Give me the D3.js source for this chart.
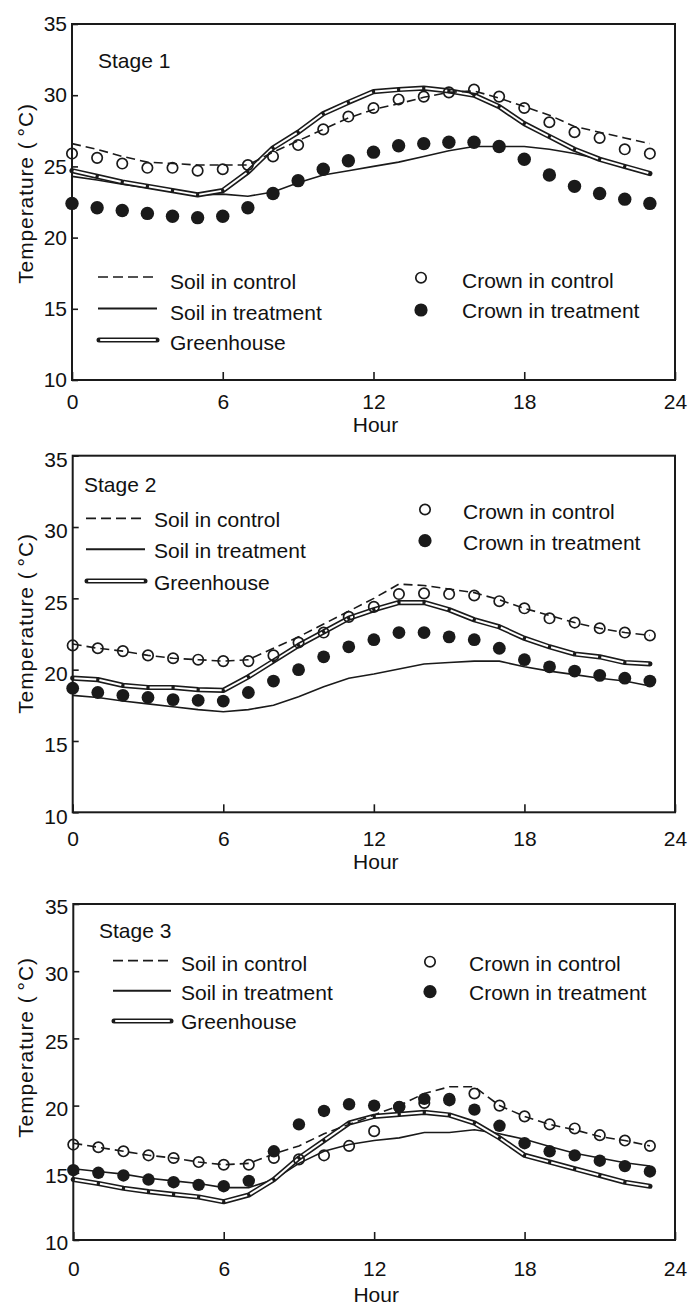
<!DOCTYPE html>
<html><head><meta charset="utf-8">
<script src="https://cdn.jsdelivr.net/npm/d3@7"></script>
<style>
body{margin:0;background:#fff}
text{font-family:"Liberation Sans",Arial,Helvetica,sans-serif;fill:#111}
</style>
</head><body><svg id="c" width="696" height="1307"></svg>
<script>
// ---------------- DATA ----------------
const hours = [0,1,2,3,4,5,6,7,8,9,10,11,12,13,14,15,16,17,18,19,20,21,22,23];
const xTickValues = [0,6,12,18,24];
const yTickValues = [10,15,20,25,30,35];
const stageLabels = ["Stage 1","Stage 2","Stage 3"];
const lineSeriesNames = ["Soil in control","Soil in treatment","Greenhouse"];
const pointSeriesNames = ["Crown in control","Crown in treatment"];
const xTitle = "Hour";
const yTitle = "Temperature (";
const yTitleUnit = "°C)";

// Stage 1
const soilControl1  = [26.6,26.2,25.7,25.3,25.2,25.1,25.1,25.1,26.0,26.8,27.6,28.4,29.0,29.4,29.85,30.2,30.3,29.8,29.2,28.6,27.8,27.4,27.0,26.6];
const soilTreat1    = [24.3,24.05,23.75,23.5,23.25,23.0,23.05,22.9,23.2,23.85,24.4,24.7,25.0,25.3,25.7,26.1,26.4,26.4,26.4,26.2,25.9,25.5,25.0,24.4];
const greenhouse1   = [24.7,24.3,23.9,23.6,23.3,23.0,23.3,24.6,26.3,27.4,28.7,29.5,30.25,30.4,30.5,30.3,30.0,29.2,28.0,27.1,26.2,25.5,25.0,24.5];
const crownControl1 = [25.9,25.6,25.2,24.9,24.9,24.7,24.8,25.1,25.7,26.5,27.6,28.5,29.1,29.7,29.9,30.2,30.4,29.9,29.1,28.1,27.4,27.0,26.2,25.9];
const crownTreat1   = [22.4,22.1,21.9,21.7,21.5,21.4,21.5,22.1,23.1,24.0,24.8,25.4,26.0,26.45,26.6,26.7,26.7,26.4,25.5,24.4,23.6,23.1,22.7,22.4];

// Stage 2
const soilControl2  = [21.8,21.5,21.3,21.0,20.8,20.7,20.6,20.7,21.5,22.3,23.2,24.1,25.0,26.0,25.9,25.65,25.4,24.9,24.3,23.8,23.3,22.9,22.6,22.4];
const soilTreat2    = [18.2,18.05,17.8,17.6,17.4,17.2,17.05,17.2,17.5,18.1,18.8,19.4,19.7,20.05,20.4,20.5,20.6,20.6,20.2,19.9,19.65,19.4,19.2,18.85];
const greenhouse2   = [19.4,19.3,18.9,18.75,18.75,18.6,18.55,19.5,20.6,21.7,22.65,23.6,24.2,24.7,24.7,24.2,23.5,23.0,22.2,21.6,21.1,20.9,20.5,20.4];
const crownControl2 = [21.7,21.5,21.3,21.0,20.8,20.7,20.6,20.6,21.0,21.9,22.6,23.7,24.4,25.3,25.35,25.3,25.2,24.8,24.3,23.6,23.3,22.9,22.6,22.4];
const crownTreat2   = [18.7,18.4,18.2,18.05,17.9,17.85,17.8,18.4,19.2,20.0,20.9,21.6,22.1,22.6,22.6,22.3,22.1,21.5,20.7,20.2,19.9,19.6,19.4,19.2];

// Stage 3
const soilControl3  = [17.2,16.9,16.6,16.3,16.1,15.8,15.6,15.7,16.4,17.0,17.9,18.6,19.3,20.0,20.9,21.4,21.4,20.0,19.2,18.6,18.2,17.7,17.4,17.0];
const soilTreat3    = [15.3,15.1,14.9,14.6,14.4,14.2,13.9,13.9,14.5,15.7,16.6,17.1,17.4,17.6,18.0,18.0,18.2,17.9,17.5,16.95,16.45,16.1,15.75,15.5];
const greenhouse3   = [14.5,14.2,13.85,13.6,13.4,13.2,12.85,13.35,14.5,16.1,17.4,18.7,19.2,19.35,19.5,19.3,18.7,17.6,16.3,15.8,15.3,14.8,14.3,14.0];
const crownControl3 = [17.1,16.9,16.6,16.3,16.1,15.8,15.6,15.6,16.1,16.0,16.3,17.0,18.1,19.9,20.2,20.5,20.9,20.0,19.2,18.6,18.3,17.8,17.4,17.0];
const crownTreat3   = [15.2,15.0,14.8,14.5,14.3,14.1,14.0,14.4,16.6,18.6,19.6,20.1,20.0,19.9,20.5,20.4,19.7,18.5,17.2,16.6,16.3,15.9,15.5,15.1];

const stages = [
  {soilC: soilControl1, soilT: soilTreat1, gh: greenhouse1, crC: crownControl1, crT: crownTreat1},
  {soilC: soilControl2, soilT: soilTreat2, gh: greenhouse2, crC: crownControl2, crT: crownTreat2},
  {soilC: soilControl3, soilT: soilTreat3, gh: greenhouse3, crC: crownControl3, crT: crownTreat3}
];

// ---------------- LAYOUT ----------------
const layouts = [
  {left:72, right:675, top:24, bottom:380, xLabPad:14.1, hourY:432, yLabShift:0, yTitleY:193.5,
   stageX:98, stageY:68,
   lineLeg:{x1:98, x2:157, tx:170, ys:[277,308.5,340], tys:[289,320,350]},
   ptLeg:{cx:421, tx:462, ys:[277.7,310], tys:[288.3,318.3]}, rFill:6.7},
  {left:72.7, right:675, top:455.7, bottom:812.3, xLabPad:18.8, hourY:869, yLabShift:4, yTitleY:623.5,
   stageX:84, stageY:492,
   lineLeg:{x1:86, x2:145, tx:154, ys:[518.3,549.3,581], tys:[527,558,590]},
   ptLeg:{cx:425, tx:463, ys:[509.5,540.7], tys:[519.3,550]}, rFill:6.4},
  {left:73.3, right:675, top:904, bottom:1240, xLabPad:21.2, hourY:1302, yLabShift:3, yTitleY:1047.5,
   stageX:99, stageY:938,
   lineLeg:{x1:113, x2:171, tx:181, ys:[960.7,990.7,1021], tys:[971,1000,1029]},
   ptLeg:{cx:430, tx:469, ys:[961.7,991.7], tys:[971,1000]}, rFill:6.2}
];

const INK = "#1a1a1a";
const FS = 21;
const svg = d3.select("#c");

function drawGreenhouse(g, pts, outerW, innerW, gap) {
  g.append("path").attr("d", d3.line()(pts))
    .attr("fill","none").attr("stroke",INK).attr("stroke-width",outerW)
    .attr("stroke-linejoin","round").attr("stroke-linecap","round");
  for (let k = 0; k < pts.length - 1; k++) {
    const [x0,y0] = pts[k], [x1,y1] = pts[k+1];
    const dx = x1-x0, dy = y1-y0, len = Math.hypot(dx,dy);
    const ux = dx/len, uy = dy/len;
    g.append("line")
      .attr("x1", x0+ux*gap).attr("y1", y0+uy*gap)
      .attr("x2", x1-ux*gap).attr("y2", y1-uy*gap)
      .attr("stroke","#fff").attr("stroke-width",innerW);
  }
}

stages.forEach((s, i) => {
  const L = layouts[i];
  const x = d3.scaleLinear().domain([0,24]).range([L.left, L.right]);
  const y = d3.scaleLinear().domain([10,35]).range([L.bottom, L.top]);
  const g = svg.append("g");

  // axes
  const xa = g.append("g").attr("transform",`translate(0,${L.bottom})`)
    .call(d3.axisBottom(x).tickValues(xTickValues).tickSizeInner(-8).tickSizeOuter(0).tickPadding(L.xLabPad));
  xa.select(".domain").remove();
  xa.selectAll(".tick line").attr("stroke",INK).attr("stroke-width",1.6);
  xa.selectAll(".tick text").attr("font-size",FS).attr("fill","#111").attr("font-family",null);

  const ya = g.append("g").attr("transform",`translate(${L.left},0)`)
    .call(d3.axisLeft(y).tickValues(yTickValues).tickSizeInner(-6).tickSizeOuter(0).tickPadding(5));
  ya.select(".domain").remove();
  ya.selectAll(".tick line").attr("stroke",INK).attr("stroke-width",1.6);
  ya.selectAll(".tick text").attr("font-size",FS).attr("fill","#111").attr("font-family",null)
    .attr("transform",`translate(0,${L.yLabShift})`);

  // frame
  g.append("rect").attr("x",L.left).attr("y",L.top)
    .attr("width",L.right-L.left).attr("height",L.bottom-L.top)
    .attr("fill","none").attr("stroke",INK).attr("stroke-width",2);

  // titles
  g.append("text").attr("x",(L.left+L.right)/2+2).attr("y",L.hourY)
    .attr("text-anchor","middle").attr("font-size",FS).text(xTitle);
  const yt = g.append("text").attr("transform",`translate(33,${L.yTitleY}) rotate(-90)`)
    .attr("text-anchor","middle").attr("font-size",FS).attr("letter-spacing",0.9);
  yt.append("tspan").text(yTitle);
  yt.append("tspan").attr("dx",5).text(yTitleUnit);

  g.append("text").attr("x",L.stageX).attr("y",L.stageY).attr("font-size",FS).text(stageLabels[i]);

  const line = d3.line().x(d => x(d[0])).y(d => y(d[1]));
  const pairs = arr => hours.map((h,k) => [h, arr[k]]);

  // soil in treatment (thin solid)
  g.append("path").attr("d", line(pairs(s.soilT)))
    .attr("fill","none").attr("stroke",INK).attr("stroke-width",1.6);
  // greenhouse (double line)
  drawGreenhouse(g, pairs(s.gh).map(d => [x(d[0]), y(d[1])]), 5.2, 2.0, 1.6);
  // soil in control (dashed)
  g.append("path").attr("d", line(pairs(s.soilC)))
    .attr("fill","none").attr("stroke",INK).attr("stroke-width",1.6).attr("stroke-dasharray","9,5");

  // crown points
  g.selectAll(null).data(pairs(s.crC)).enter().append("circle")
    .attr("cx", d => x(d[0])).attr("cy", d => y(d[1])).attr("r",5.2)
    .attr("fill","none").attr("stroke",INK).attr("stroke-width",1.7);
  g.selectAll(null).data(pairs(s.crT)).enter().append("circle")
    .attr("cx", d => x(d[0])).attr("cy", d => y(d[1])).attr("r",L.rFill)
    .attr("fill",INK);

  // legend - lines
  const LL = L.lineLeg;
  g.append("line").attr("x1",LL.x1).attr("x2",LL.x2).attr("y1",LL.ys[0]).attr("y2",LL.ys[0])
    .attr("stroke",INK).attr("stroke-width",1.7).attr("stroke-dasharray","10,5");
  g.append("line").attr("x1",LL.x1).attr("x2",LL.x2).attr("y1",LL.ys[1]).attr("y2",LL.ys[1])
    .attr("stroke",INK).attr("stroke-width",2);
  drawGreenhouse(g, [[LL.x1+1, LL.ys[2]], [LL.x2, LL.ys[2]]], 5.0, 2.0, 1.2);
  lineSeriesNames.forEach((n,k) => {
    g.append("text").attr("x",LL.tx).attr("y",LL.tys[k]).attr("font-size",FS).text(n);
  });

  // legend - points
  const PL = L.ptLeg;
  g.append("circle").attr("cx",PL.cx).attr("cy",PL.ys[0]).attr("r",5.2)
    .attr("fill","none").attr("stroke",INK).attr("stroke-width",1.7);
  g.append("circle").attr("cx",PL.cx).attr("cy",PL.ys[1]).attr("r",6.6).attr("fill",INK);
  pointSeriesNames.forEach((n,k) => {
    g.append("text").attr("x",PL.tx).attr("y",PL.tys[k]).attr("font-size",FS).text(n);
  });
});
</script>
</body></html>
